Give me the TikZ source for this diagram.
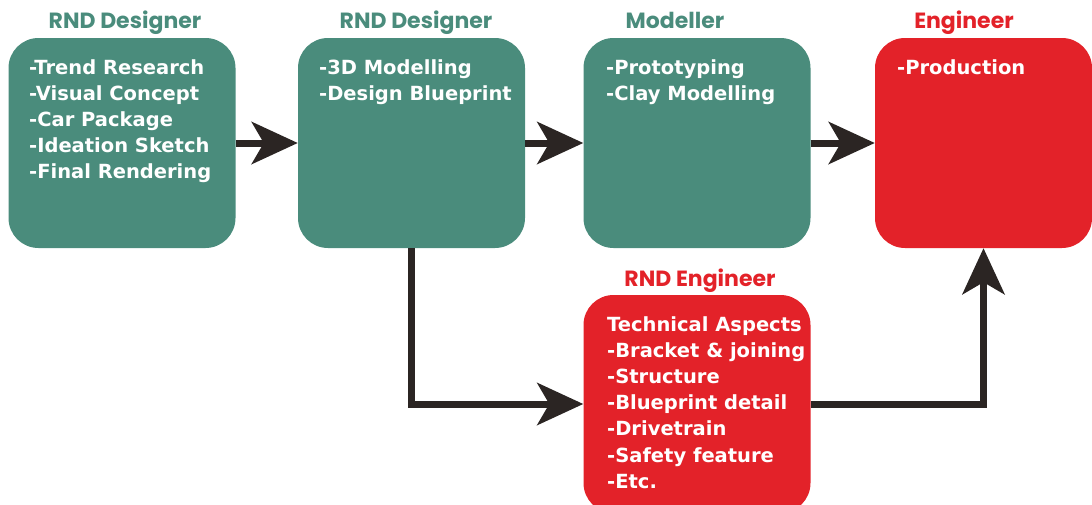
\documentclass[tikz,border=0pt]{standalone}
\usepackage{fontspec}
\setmainfont{DejaVu Sans}
\newfontfamily\rolefont{Poppins}
\usetikzlibrary{arrows.meta,positioning}

\definecolor{stageteal}{RGB}{74,140,124}
\definecolor{stagered}{RGB}{227,34,41}
\definecolor{flowgrey}{RGB}{43,37,35}

\tikzset{
  stage/.style={rounded corners=30pt, minimum width=227pt, minimum height=210pt, inner sep=0pt},
  design/.style={stage, fill=stageteal},
  build/.style={stage, fill=stagered},
  tasks/.style={anchor=north west, align=left, text=white, inner sep=0pt,
    font=\bfseries\fontsize{19.5}{26.2}\selectfont},
  role/.style={anchor=base, inner sep=0pt, font=\rolefont\bfseries\fontsize{22}{26}\selectfont},
  flow/.style={line width=7pt, draw=flowgrey,
    -{Stealth[length=46pt, width=42pt, inset=12pt]}}
}

\begin{document}
\begin{tikzpicture}[x=1pt, y=-1pt]
  \useasboundingbox (0,0) rectangle (1092,504);

  % stage boxes
  \node[design] (concept) at (122,143) {};
  \node[design] (model3d) at (411.5,143) {};
  \node[design] (clay) at (697,143) {};
  \node[build, minimum width=217pt] (prod) at (983.5,143) {};
  \node[build, minimum height=218pt] (tech) at (697,404) {};

  % who does it
  \node[role, text=stageteal] (r1) at (125,28) {RND Designer};
  \node[role, text=stageteal] (r2) at (416,28) {RND Designer};
  \node[role, text=stageteal] (r3) at (675,28) {Modeller};
  \node[role, text=stagered] (r4) at (964,28) {Engineer};
  \node[role, text=stagered] (r5) at (700,286) {RND Engineer};

  % what is done
  \node[tasks] (t1) at (29,59) {-Trend Research\\-Visual Concept\\-Car Package\\-Ideation Sketch\\-Final Rendering};
  \node[tasks] (t2) at (319,59) {-3D Modelling\\-Design Blueprint};
  \node[tasks] (t3) at (606,59) {-Prototyping\\-Clay Modelling};
  \node[tasks] (t4) at (897,59) {-Production};
  \node[tasks] (t5) at (607,316) {Technical Aspects\\-Bracket \& joining\\-Structure\\-Blueprint detail\\-Drivetrain\\-Safety feature\\-Etc.};

  % flow
  \draw[flow] (concept) -- (model3d);
  \draw[flow] (model3d) -- (clay);
  \draw[flow] (clay) -- (prod);
  \draw[flow] (model3d.south) |- (tech.west);
  \draw[flow] (tech.east) -| (prod.south);
\end{tikzpicture}
\end{document}
